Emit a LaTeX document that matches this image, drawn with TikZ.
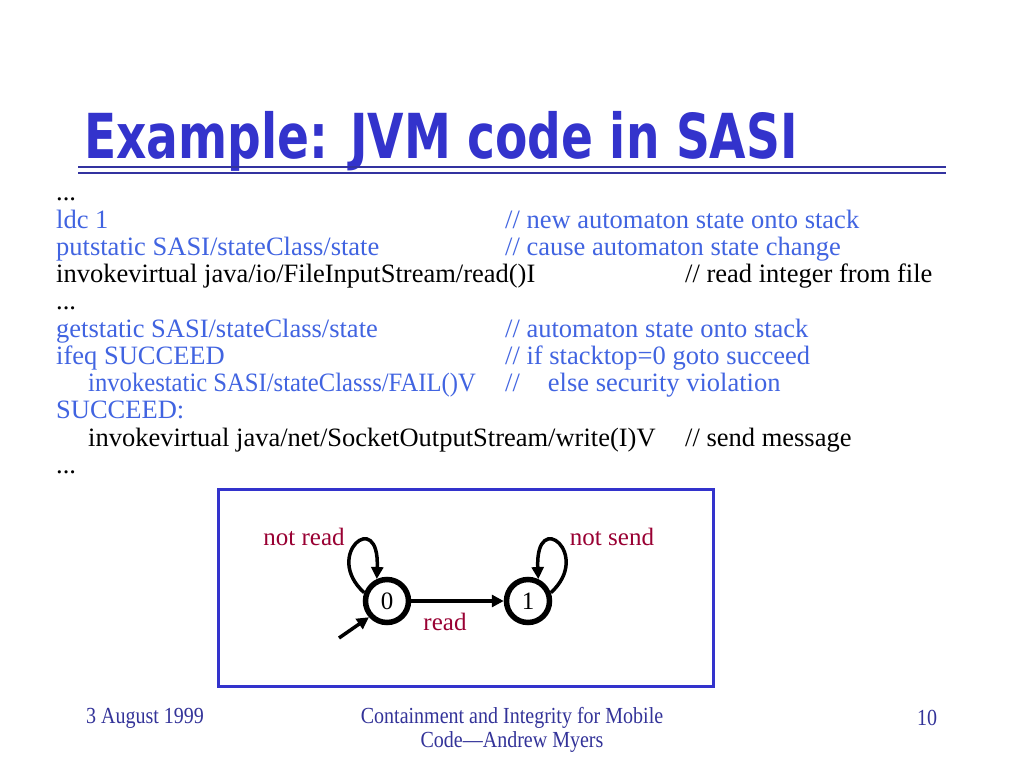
\documentclass[tikz,border=0pt]{standalone}
\usepackage{fontspec}
\setmainfont{Liberation Serif}
\newfontfamily\titlefont[FakeStretch=0.76]{DejaVu Sans}
\newfontfamily\footfont[FakeStretch=0.87]{Liberation Serif}
\usetikzlibrary{arrows.meta}
\definecolor{titleblue}{RGB}{51,51,204}
\definecolor{rulecol}{RGB}{51,51,160}
\definecolor{codeblue}{RGB}{65,100,225}
\definecolor{lblred}{RGB}{153,0,51}
\definecolor{footblue}{RGB}{51,51,153}
\tikzset{
  codeline/.style={anchor=base west, inner sep=0pt, font=\fontsize{26.5}{30}\selectfont},
  bluecode/.style={codeline, text=codeblue},
  blackcode/.style={codeline, text=black},
  footer/.style={inner sep=0pt, text=footblue, font=\footfont\fontsize{23}{24}\selectfont},
  state/.style={circle, draw=black, line width=5.5pt, minimum size=43pt, inner sep=0pt,
    font=\fontsize{25}{26}\selectfont},
  trans/.style={line width=3.5pt, -{Triangle[length=12pt,width=12pt]}},
  lbl/.style={inner sep=0pt, text=lblred, font=\fontsize{25}{26}\selectfont},
}
\begin{document}
\begin{tikzpicture}[x=1pt,y=-1pt]
\fill[white] (0,0) rectangle (1024,768);
\useasboundingbox (0,0) rectangle (1024,768);
% title
\node[anchor=base west, inner sep=0pt, text=titleblue, font=\titlefont\bfseries\fontsize{62}{64}\selectfont] (title) at (84,158) {Example: JVM code in SASI};
\draw[rulecol, line width=2pt] (78,167) -- (946,167);
\draw[rulecol, line width=2pt] (78,172.5) -- (946,172.5);
% code
\def\xa{56}\def\xb{88}\def\xc{505}\def\xd{685}
\node[blackcode] (l0) at (\xa,200.5) {...};
\node[bluecode] (l1) at (\xa,228) {ldc 1};
\node[bluecode] (c1) at (\xc,228) {// new automaton state onto stack};
\node[bluecode] (l2) at (\xa,255.25) {putstatic SASI/stateClass/state};
\node[bluecode] (c2) at (\xc,255.25) {// cause automaton state change};
\node[blackcode] (l3) at (\xa,282.5) {invokevirtual java/io/FileInputStream/read()I};
\node[blackcode] (c3) at (\xd,282.5) {// read integer from file};
\node[blackcode] (l4) at (\xa,309.75) {...};
\node[bluecode] (l5) at (\xa,337) {getstatic SASI/stateClass/state};
\node[bluecode] (c5) at (\xc,337) {// automaton state onto stack};
\node[bluecode] (l6) at (\xa,364.25) {ifeq SUCCEED};
\node[bluecode] (c6) at (\xc,364.25) {// if stacktop=0 goto succeed};
\node[bluecode] (l7) at (\xb,391.5) {\scalebox{0.93}[1]{invokestatic SASI/stateClasss/FAIL()V}};
\node[bluecode] (c7) at (\xc,391.5) {//\hspace{28pt}else security violation};
\node[bluecode] (l8) at (\xa,418.75) {SUCCEED:};
\node[blackcode] (l9) at (\xb,446) {invokevirtual java/net/SocketOutputStream/write(I)V};
\node[blackcode] (c9) at (\xd,446) {// send message};
\node[blackcode] (l10) at (\xa,473.25) {...};
% automaton box
\draw[titleblue, line width=3pt] (218,489) rectangle (713,686);
\node[state] (s0) at (387,601) {0};
\node[state] (s1) at (528,601) {1};
\coordinate (init) at (339,638);
\draw[trans] (s0) -- (s1);
\draw[trans] (init) -- (s0.222);
\draw[trans] (s0.160) .. controls +(-42,-38) and +(3,-72) .. (s0.115);
\draw[trans] (s1.20) .. controls +(42,-38) and +(-3,-72) .. (s1.65);
\node[lbl] (nr) at (304,537) {not read};
\node[lbl] (ns) at (612,537) {not send};
\node[lbl] (rd) at (445,622) {read};
% footer
\node[footer] (f1) at (145,718) {3 August 1999};
\node[footer] (f2) at (512,718) {Containment and Integrity for Mobile};
\node[footer] (f3) at (512,742) {Code—Andrew Myers};
\node[footer] (f4) at (927,718) {10};
\end{tikzpicture}
\end{document}
